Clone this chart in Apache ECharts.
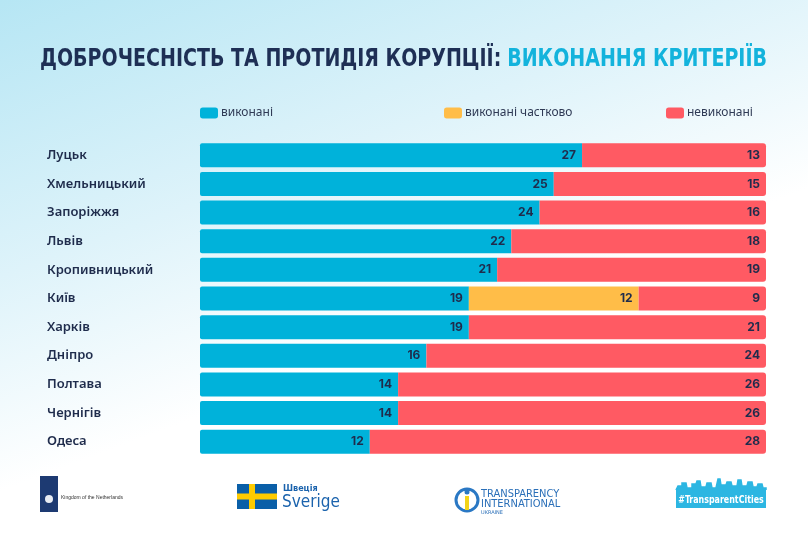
<!DOCTYPE html>
<html>
<head>
<meta charset="utf-8">
<script src="https://cdn.jsdelivr.net/npm/echarts@6/dist/echarts.min.js"></script>
<style>html,body{margin:0;padding:0;}#c{width:808px;height:539px;}</style>
</head>
<body>
<div id="c"></div>
<script>
const categories = ['Луцьк','Хмельницький','Запоріжжя','Львів','Кропивницький','Київ','Харків','Дніпро','Полтава','Чернігів','Одеса'];
const doneValues = [27,25,24,22,21,19,19,16,14,14,12];
const partialValues = [0,0,0,0,0,12,0,0,0,0,0];
const notDoneValues = [13,15,16,18,19,9,21,24,26,26,28];
const seriesNames = ['виконані','виконані частково','невиконані'];
const titleDark = 'ДОБРОЧЕСНІСТЬ ТА ПРОТИДІЯ КОРУПЦІЇ:';
const titleBlue = 'ВИКОНАННЯ КРИТЕРІЇВ';

const C_BLUE = '#00b2da', C_YEL = '#ffbd48', C_RED = '#ff5a63', C_TXT = '#1f2c4c';
const titleFont = "'DejaVu Sans Condensed', 'DejaVu Sans'";
const tSize = 30;
const cv = document.createElement('canvas').getContext('2d');
cv.font = 'bold ' + tSize + 'px ' + titleFont;
const w1 = cv.measureText(titleDark).width;
const w2 = cv.measureText(titleBlue).width;
const gap = tSize * 0.28;
const s = 727 / (w1 + gap + w2);
const sy = 0.84;

const chart = echarts.init(document.getElementById('c'));
const lbl = {
  show: true, position: 'insideRight', distance: 6,
  color: C_TXT, fontSize: 12, fontWeight: 'bold', fontFamily: 'Inter',
  formatter: p => (p.value > 0 ? String(p.value) : '')
};
function legendAt(left, name) {
  return { show: true, left: left, top: 107, padding: 0, data: [name], icon: 'roundRect',
    itemWidth: 18, itemHeight: 11, itemGap: 4,
    textStyle: { color: '#2f3a55', fontSize: 12, fontFamily: 'Noto Sans', padding: [0,0,0,-2] } };
}
chart.setOption({
  backgroundColor: { type: 'linear', x: 0, y: 0, x2: 0.25, y2: 1, colorStops: [
    { offset: 0, color: '#b6e6f4' }, { offset: 0.45, color: '#def3fa' }, { offset: 0.8, color: '#ffffff' }, { offset: 1, color: '#ffffff' } ] },
  animation: false,
  legend: [legendAt(200, seriesNames[0]), legendAt(444, seriesNames[1]), legendAt(666, seriesNames[2])],
  grid: { left: 200, right: 42, top: 141, bottom: 83 },
  xAxis: { type: 'value', min: 0, max: 40, show: false },
  yAxis: { type: 'category', data: categories, inverse: true,
    axisLine: { show: false }, axisTick: { show: false },
    axisLabel: { align: 'left', margin: 153, color: C_TXT, fontSize: 13, fontWeight: 600, fontFamily: 'Noto Sans' } },
  series: [
    { name: seriesNames[0], type: 'bar', stack: 'a', data: doneValues, barWidth: 24,
      itemStyle: { color: C_BLUE, borderRadius: [2,0,0,2] }, label: lbl },
    { name: seriesNames[1], type: 'bar', stack: 'a', data: partialValues, barWidth: 24,
      itemStyle: { color: C_YEL }, label: lbl },
    { name: seriesNames[2], type: 'bar', stack: 'a', data: notDoneValues, barWidth: 24,
      itemStyle: { color: C_RED, borderRadius: [0,3,3,0] }, label: lbl }
  ],
  graphic: [
    { type: 'text', x: 40, y: 59, scaleX: s, scaleY: sy, style: { text: titleDark, font: 'bold ' + tSize + 'px ' + titleFont, fill: '#1e2f55', verticalAlign: 'middle' } },
    { type: 'text', x: 40 + (w1 + gap) * s, y: 59, scaleX: s, scaleY: sy, style: { text: titleBlue, font: 'bold ' + tSize + 'px ' + titleFont, fill: '#13b3dc', verticalAlign: 'middle' } },
    // Netherlands
    { type: 'rect', shape: { x: 40, y: 476, width: 18, height: 36 }, style: { fill: '#1d3a72' } },
    { type: 'circle', shape: { cx: 49, cy: 499, r: 4 }, style: { fill: '#e8ecf3' } },
    { type: 'text', x: 61, y: 498, style: { text: 'Kingdom of the Netherlands', font: '5px Liberation Sans', fill: '#333', verticalAlign: 'middle' } },
    // Sweden
    { type: 'rect', shape: { x: 237, y: 484, width: 40, height: 25 }, style: { fill: '#0a5fa8' } },
    { type: 'rect', shape: { x: 249, y: 484, width: 6, height: 25 }, style: { fill: '#fecb00' } },
    { type: 'rect', shape: { x: 237, y: 493.5, width: 40, height: 6 }, style: { fill: '#fecb00' } },
    { type: 'text', x: 283, y: 489, style: { text: 'Швеція', font: 'bold 9px DejaVu Sans Condensed', fill: '#1b63ad', verticalAlign: 'middle' } },
    { type: 'text', x: 282, y: 503, style: { text: 'Sverige', font: '17px DejaVu Sans Condensed', fill: '#1b63ad', verticalAlign: 'middle' } },
    // Transparency International
    { type: 'circle', shape: { cx: 467, cy: 500, r: 11 }, style: { fill: 'none', stroke: '#2a78c4', lineWidth: 3 } },
    { type: 'circle', shape: { cx: 467, cy: 492, r: 2.5 }, style: { fill: '#2a78c4' } },
    { type: 'rect', shape: { x: 465, y: 496, width: 4, height: 14 }, style: { fill: '#f2d318' } },
    { type: 'text', x: 481, y: 494, style: { text: 'TRANSPARENCY', font: '11px DejaVu Sans Condensed', fill: '#2a6fb8', verticalAlign: 'middle' } },
    { type: 'text', x: 481, y: 504, style: { text: 'INTERNATIONAL', font: '11px DejaVu Sans Condensed', fill: '#2a6fb8', verticalAlign: 'middle' } },
    { type: 'text', x: 481, y: 512.5, style: { text: 'UKRAINE', font: '5px DejaVu Sans', fill: '#2a6fb8', verticalAlign: 'middle' } },
    // TransparentCities
    { type: 'rect', shape: { x: 676, y: 490, width: 90, height: 18 }, style: { fill: '#2cb6e2' } },
    { type: 'polyline', shape: { points: [[676,490],[678,486],[682,486],[682,483],[686,483],[687,488],[692,488],[692,484],[696,484],[697,481],[700,481],[701,487],[706,487],[707,483],[711,483],[712,488],[716,488],[718,479],[720,479],[721,485],[726,485],[727,482],[731,482],[732,486],[737,486],[738,480],[741,480],[742,486],[747,486],[748,482],[752,482],[753,487],[757,487],[758,484],[762,484],[763,488],[766,488],[766,490]] }, style: { fill: '#2cb6e2', stroke: '#2cb6e2', lineWidth: 1.5 } },
    { type: 'text', x: 721, y: 500, scaleX: 0.8, style: { text: '#TransparentCities', font: 'bold 11px DejaVu Sans Condensed', fill: '#ffffff', align: 'center', verticalAlign: 'middle' } }
  ]
});
</script>
</body>
</html>
